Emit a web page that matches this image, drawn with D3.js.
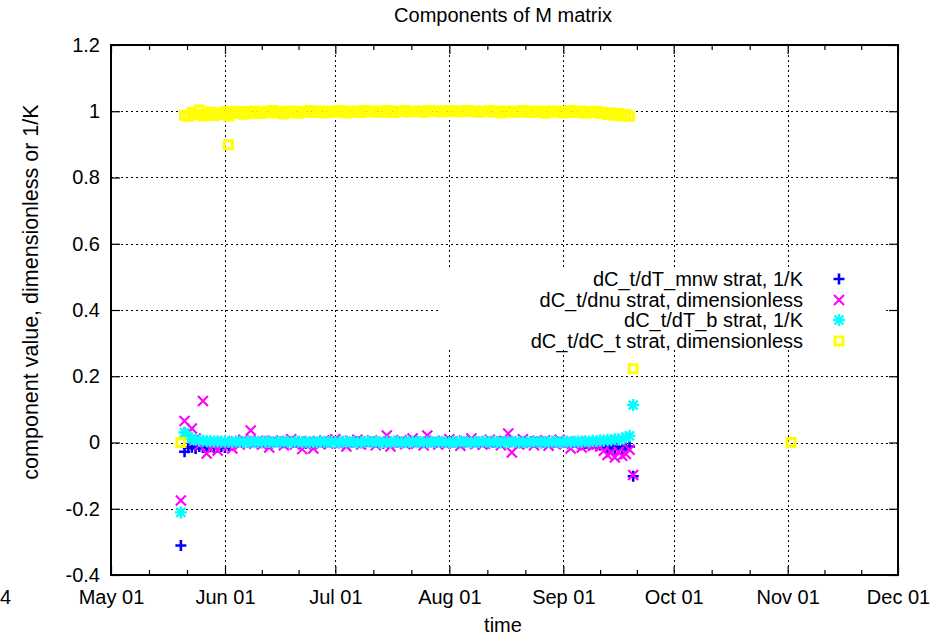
<!DOCTYPE html>
<html>
<head>
<meta charset="utf-8">
<script src="https://cdn.jsdelivr.net/npm/d3@7"></script>
<style>
  body { margin: 0; background: #fff; }
  svg { display: block; }
  text { font-family: "Liberation Sans", Arial, Helvetica, sans-serif; fill: #000; }
</style>
</head>
<body>
<svg id="chart" width="943" height="635"></svg>
<script>
// Daily samples, 2014-05-21 .. 2014-09-19 (122 days)
const bandStart = "2014-05-21";
const bandEnd = "2014-09-20";

// dC_t/dT_mnw strat, 1/K
const mnw = [
  -0.028, -0.016, -0.014, -0.018, -0.012, -0.015, -0.017, -0.013, -0.016, -0.014,
  -0.012, -0.015, -0.010, -0.006, 0.001, 0.002, 0.000, 0.001, 0.003, 0.002,
  0.001, -0.001, 0.002, 0.000, 0.001, 0.003, 0.002, -0.001, 0.001, 0.002,
  0.000, 0.002, 0.001, -0.002, 0.001, 0.003, 0.000, 0.002, 0.001, 0.000,
  0.002, 0.001, -0.001, 0.002, 0.003, 0.000, 0.001, 0.002, -0.001, 0.001,
  0.003, 0.002, 0.000, 0.001, -0.002, 0.002, 0.001, 0.003, 0.000, 0.001,
  0.002, -0.001, 0.001, 0.003, 0.002, 0.000, 0.001, 0.002, -0.001, 0.002,
  0.001, 0.000, 0.003, 0.001, 0.002, -0.001, 0.001, 0.002, 0.000, 0.003,
  0.001, 0.002, -0.002, 0.001, 0.000, 0.002, 0.003, 0.001, 0.000, 0.002,
  0.001, -0.001, 0.002, 0.000, 0.003, 0.001, 0.002, -0.001, 0.001, 0.000,
  0.002, 0.001, -0.002, 0.000, 0.001, -0.003, 0.000, -0.002, -0.001, -0.003,
  -0.002, -0.004, -0.004, -0.008, -0.012, -0.015, -0.010, -0.018, -0.014, -0.020,
  -0.016, -0.012
];

// dC_t/dnu strat, dimensionless
const dnu = [
  0.065, 0.030, 0.042, 0.012, -0.008, 0.125, -0.033, -0.020, -0.010, -0.024,
  -0.005, 0.004, -0.010, -0.018, 0.003, -0.006, 0.008, 0.002, 0.036, -0.004,
  0.005, -0.006, 0.003, -0.015, 0.006, -0.004, 0.002, -0.008, 0.004, 0.010,
  -0.006, 0.003, -0.020, -0.006, 0.004, -0.018, 0.002, -0.005, 0.006, -0.003,
  0.004, 0.010, -0.004, 0.002, -0.012, 0.005, -0.003, 0.008, -0.006, 0.003,
  -0.004, 0.006, -0.008, 0.003, -0.002, 0.021, -0.012, 0.004, -0.003, 0.007,
  -0.005, 0.002, 0.012, -0.004, 0.003, -0.008, 0.021, -0.002, 0.005, -0.006,
  0.003, -0.004, 0.010, -0.002, 0.004, -0.010, 0.006, -0.003, 0.012, -0.005,
  0.002, -0.006, 0.004, 0.008, -0.004, 0.003, -0.008, 0.005, 0.027, -0.030,
  0.004, -0.006, 0.010, -0.003, 0.002, -0.008, 0.005, -0.004, 0.006, -0.010,
  0.003, -0.005, 0.008, -0.004, 0.002, -0.018, -0.006, 0.004, -0.015, -0.008,
  0.003, -0.010, -0.006, -0.012, -0.025, -0.038, -0.030, -0.045, -0.028, -0.040,
  -0.035, -0.022
];

// dC_t/dT_b strat, 1/K
const dTb = [
  0.030, 0.018, 0.012, 0.008, 0.006, 0.005, 0.004, 0.004, 0.003, 0.003,
  0.002, 0.003, 0.002, 0.001, 0.003, 0.002, 0.001, 0.002, 0.003, 0.001,
  0.002, 0.001, 0.003, 0.002, 0.000, 0.002, 0.001, 0.003, 0.002, 0.001,
  0.002, 0.003, 0.001, 0.002, 0.000, 0.002, 0.001, 0.003, 0.002, 0.001,
  0.002, 0.001, 0.000, 0.002, 0.003, 0.001, 0.002, 0.000, 0.001, 0.002,
  0.003, 0.001, 0.002, 0.000, 0.001, 0.002, 0.001, 0.003, 0.002, 0.000,
  0.001, 0.002, 0.003, 0.001, 0.002, 0.000, 0.001, 0.002, 0.001, 0.003,
  0.002, 0.001, 0.000, 0.002, 0.001, 0.003, 0.002, 0.001, 0.000, 0.002,
  0.001, 0.002, 0.003, 0.001, 0.002, 0.001, 0.000, 0.002, 0.001, 0.003,
  0.002, 0.001, 0.002, 0.000, 0.001, 0.003, 0.002, 0.001, 0.002, 0.001,
  0.003, 0.002, 0.001, 0.002, 0.003, 0.001, 0.002, 0.003, 0.002, 0.004,
  0.003, 0.005, 0.004, 0.006, 0.005, 0.008, 0.007, 0.010, 0.009, 0.012,
  0.016, 0.020
];

// dC_t/dC_t strat, dimensionless
const dCt = [
  0.988, 0.985, 0.996, 0.990, 1.004, 0.986, 0.992, 0.998, 0.987, 0.995,
  0.990, 0.999, 0.986, 0.993, 1.000, 0.996, 0.991, 0.999, 0.994, 1.001,
  0.997, 0.993, 1.000, 0.996, 1.002, 0.995, 0.999, 0.992, 0.998, 1.001,
  0.997, 0.994, 1.000, 0.998, 1.002, 0.996, 0.999, 1.001, 0.995, 0.998,
  1.000, 0.997, 1.002, 0.999, 0.995, 1.001, 0.998, 1.000, 0.996, 1.002,
  0.999, 1.001, 0.997, 1.000, 0.998, 1.002, 0.999, 0.996, 1.001, 0.999,
  1.002, 0.998, 1.000, 0.999, 1.001, 0.997, 1.000, 1.002, 0.999, 1.001,
  0.998, 1.000, 1.002, 0.999, 1.001, 0.998, 1.000, 1.002, 0.999, 1.001,
  0.997, 1.000, 0.999, 1.002, 0.998, 1.001, 0.995, 0.999, 1.001, 0.997,
  1.000, 0.998, 1.002, 0.999, 0.996, 1.001, 0.998, 1.000, 0.994, 0.999,
  1.001, 0.997, 1.000, 0.995, 0.999, 1.002, 0.996, 0.998, 1.001, 0.994,
  0.999, 0.996, 1.000, 0.993, 0.997, 0.990, 0.995, 0.988, 0.993, 0.986,
  0.990, 0.985
];

// Isolated samples outside the daily run
const extraDates = ["2014-05-20T00:00", "2014-06-01T22:00", "2014-09-20T00:00", "2014-11-01T22:00"];
const extraMnw = [-0.311, null, -0.102, null];
const extraDnu = [-0.175, null, -0.098, null];
const extraDTb = [-0.211, null, 0.113, null];
const extraDCt = [0.000, 0.899, 0.223, 0.000];

// Axes
const xDomain = ["2014-05-01", "2014-12-01"];
const yTickValues = [-0.4, -0.2, 0, 0.2, 0.4, 0.6, 0.8, 1, 1.2];
const yTickLabels = ["-0.4", "-0.2", "0", "0.2", "0.4", "0.6", "0.8", "1", "1.2"];
const seriesNames = [
  "dC_t/dT_mnw strat, 1/K",
  "dC_t/dnu strat, dimensionless",
  "dC_t/dT_b strat, 1/K",
  "dC_t/dC_t strat, dimensionless"
];
const seriesColors = ["#0000ff", "#ff00ff", "#00ffff", "#ffff00"];

const parseDay = d3.timeParse("%Y-%m-%d");
const parseStamp = d3.timeParse("%Y-%m-%dT%H:%M");
const bandDates = d3.timeDay.range(parseDay(bandStart), parseDay(bandEnd));

function buildSeries(daily, extras) {
  const pts = bandDates.map((d, i) => ({ date: d, value: daily[i] }));
  extraDates.forEach((s, i) => {
    if (extras[i] !== null) pts.push({ date: parseStamp(s), value: extras[i] });
  });
  return pts;
}

const series = [
  buildSeries(mnw, extraMnw),
  buildSeries(dnu, extraDnu),
  buildSeries(dTb, extraDTb),
  buildSeries(dCt, extraDCt)
];

const FS = "20px";
const svg = d3.select("#chart");
const L = 111, R = 898, T = 45, B = 575;

const x = d3.scaleTime().domain(xDomain.map(parseDay)).range([L, R]);
const y = d3.scaleLinear().domain([-0.4, 1.2]).range([B, T]);

const months = d3.timeMonth.range(parseDay(xDomain[0]), d3.timeDay.offset(parseDay(xDomain[1]), 1));
const minorTicks = [];
for (let i = 0; i < months.length - 1; i++) {
  const a = +months[i], b = +months[i + 1];
  minorTicks.push(new Date(a + (b - a) / 3), new Date(a + 2 * (b - a) / 3));
}

// Grid
const grid = svg.append("g").attr("stroke", "#000").attr("stroke-width", 1)
  .attr("stroke-dasharray", "2,3").attr("shape-rendering", "crispEdges");
grid.selectAll("line.v").data(months.slice(1, -1)).join("line")
  .attr("x1", d => Math.round(x(d)) + 0.5).attr("x2", d => Math.round(x(d)) + 0.5)
  .attr("y1", T).attr("y2", B);
grid.selectAll("line.h").data(yTickValues.slice(1, -1)).join("line")
  .attr("y1", d => Math.round(y(d)) + 0.5).attr("y2", d => Math.round(y(d)) + 0.5)
  .attr("x1", L).attr("x2", R);

// Tick marks and labels
const fmt = d3.timeFormat("%b %d");
function styleAxis(g) {
  g.select(".domain").remove();
  g.selectAll(".tick line").attr("stroke", "#000").attr("stroke-width", 1.2);
  g.selectAll("text").style("font-size", FS).attr("fill", "#000");
}
svg.append("g").attr("transform", `translate(0,${B})`)
  .call(d3.axisBottom(x).tickValues(months).tickFormat(fmt).tickSize(-9).tickPadding(15))
  .call(styleAxis);
svg.append("g").attr("transform", `translate(0,${B})`)
  .call(d3.axisBottom(x).tickValues(minorTicks).tickFormat("").tickSize(-5))
  .call(styleAxis);
svg.append("g").attr("transform", `translate(0,${T})`)
  .call(d3.axisTop(x).tickValues(months).tickFormat("").tickSize(-9))
  .call(styleAxis);
svg.append("g").attr("transform", `translate(0,${T})`)
  .call(d3.axisTop(x).tickValues(minorTicks).tickFormat("").tickSize(-5))
  .call(styleAxis);
svg.append("g").attr("transform", `translate(${L},0)`)
  .call(d3.axisLeft(y).tickValues(yTickValues).tickFormat((d, i) => yTickLabels[i]).tickSize(-9).tickPadding(11))
  .call(styleAxis);
svg.append("g").attr("transform", `translate(${R},0)`)
  .call(d3.axisRight(y).tickValues(yTickValues).tickFormat("").tickSize(-9))
  .call(styleAxis);

// Marker shapes
const markerPaths = [
  "M-5.5,0H5.5M0,-5.5V5.5",
  "M-5,-5L5,5M-5,5L5,-5",
  "M-6,0H6M0,-6V6M-4.5,-4.5L4.5,4.5M-4.5,4.5L4.5,-4.5",
  "M-4,-4H4V4H-4Z"
];
const markerWidths = [2.6, 2.1, 2.4, 3];

function drawMarker(sel, k) {
  sel.append("path").attr("d", markerPaths[k])
    .attr("fill", "none").attr("stroke", seriesColors[k])
    .attr("stroke-width", markerWidths[k]);
}

// Data points
series.forEach((pts, k) => {
  const g = svg.append("g").attr("class", "series-" + k);
  pts.forEach(p => {
    const m = g.append("g").attr("transform", `translate(${x(p.date)},${y(p.value)})`);
    drawMarker(m, k);
  });
});

// Key
const key = svg.append("g");
key.append("rect").attr("x", 438).attr("y", 268).attr("width", 448).attr("height", 82).attr("fill", "#fff");
const rowY = [279, 300, 320, 341];
seriesNames.forEach((name, k) => {
  key.append("text").attr("x", 803).attr("y", rowY[k]).attr("dy", "0.35em")
    .attr("text-anchor", "end").style("font-size", FS).text(name);
  const m = key.append("g").attr("transform", `translate(839,${rowY[k]})`);
  drawMarker(m, k);
});

// Frame
svg.append("rect").attr("x", L).attr("y", T).attr("width", R - L).attr("height", B - T)
  .attr("fill", "none").attr("stroke", "#000").attr("stroke-width", 1.5)
  .attr("shape-rendering", "crispEdges");

// Titles
svg.append("text").attr("x", 503).attr("y", 22).attr("text-anchor", "middle")
  .style("font-size", FS).text("Components of M matrix");
svg.append("text").attr("x", 503).attr("y", 632).attr("text-anchor", "middle")
  .style("font-size", FS).text("time");
svg.append("text").attr("transform", "translate(38,292) rotate(-90)").attr("text-anchor", "middle")
  .style("font-size", "21.5px").text("component value, dimensionless or 1/K");
svg.append("text").attr("x", 0).attr("y", 604).style("font-size", FS).text("4");
</script>
</body>
</html>
